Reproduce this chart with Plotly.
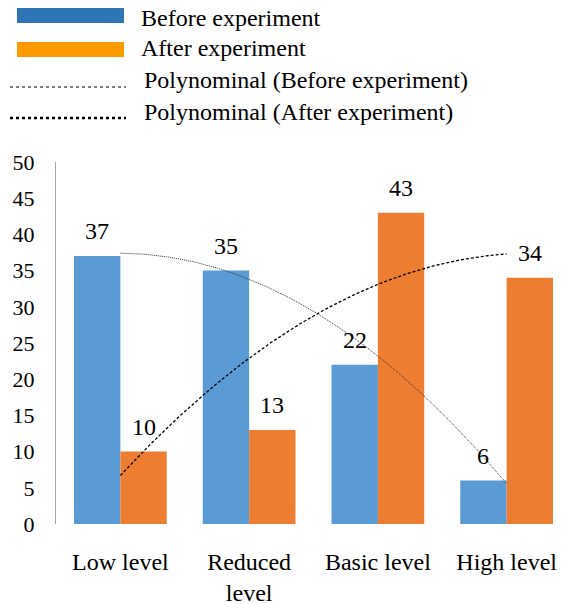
import numpy as np
import plotly.graph_objects as go

categories = ["Low level", "Reduced<br>level", "Basic level", "High level"]
before = [37, 35, 22, 6]
after = [10, 13, 43, 34]
y_ticks = [0, 5, 10, 15, 20, 25, 30, 35, 40, 45, 50]

FONT = "Liberation Serif, Times New Roman, serif"
FS = 24
FS_Y = 22
BLUE = "#5B9BD5"
ORANGE = "#ED7D31"
BARGAP = 0.28

# page body has an 8px margin; figure geometry in page pixels
OFF = 8
PL, PR, PT, PB = 56, 571, 162, 524  # plot area edges in page px
W, H = 573 - OFF, 604 - OFF
PW, PH = PR - PL, PB - PT


def px(xp):
    return (xp - PL) / PW


def py(yp):
    return (PB - yp) / PH


idx = np.arange(len(categories))
fig = go.Figure()
fig.add_trace(go.Bar(x=idx, y=before, marker=dict(color=BLUE, line=dict(width=0)), name="Before experiment", showlegend=False))
fig.add_trace(go.Bar(x=idx, y=after, marker=dict(color=ORANGE, line=dict(width=0)), name="After experiment", showlegend=False))

# polynomial (order 2) trendlines, as Excel computes them
xs = np.linspace(0, len(categories) - 1, 200)
pb = np.polyfit(idx, before, 2)
pa = np.polyfit(idx, after, 2)
fig.add_trace(go.Scatter(x=xs, y=np.polyval(pb, xs), mode="lines", line=dict(color="#333333", width=1, dash="1px,1px"), showlegend=False, hoverinfo="skip"))
fig.add_trace(go.Scatter(x=xs, y=np.polyval(pa, xs), mode="lines", line=dict(color="#000000", width=1.3, dash="3px,2px"), showlegend=False, hoverinfo="skip"))

# data labels
w = (1 - BARGAP) / 2
for i in idx:
    fig.add_annotation(x=i - w / 2, y=before[i], text=str(before[i]), showarrow=False, yshift=25,
                       font=dict(family=FONT, size=FS, color="#000"), xref="x", yref="y")
    fig.add_annotation(x=i + w / 2, y=after[i], text=str(after[i]), showarrow=False, yshift=25,
                       font=dict(family=FONT, size=FS, color="#000"), xref="x", yref="y")

# manual legend (wide swatches)
legend_labels = ["Before experiment", "After experiment",
                 "Polynominal (Before experiment)", "Polynominal (After experiment)"]
legend_kinds = ["rect", "rect", "thin", "thick"]
legend_colors = ["#2E75B6", "#FF9900", "#000", "#000"]
text_y = [18, 48, 80, 112]
swatch_y = [15.5, 49.5, 87, 118]
for label, kind, col, ty, sy in zip(legend_labels, legend_kinds, legend_colors, text_y, swatch_y):
    if kind == "rect":
        fig.add_shape(type="rect", xref="paper", yref="paper", x0=px(17), x1=px(124),
                      y0=py(sy + 7.5), y1=py(sy - 7.5), fillcolor=col, line=dict(width=0))
        tx = 139
    else:
        fig.add_shape(type="line", xref="paper", yref="paper", x0=px(10), x1=px(126),
                      y0=py(sy), y1=py(sy), line=dict(color=col, width=1 if kind == "thin" else 2.5, dash="dot"))
        tx = 142
    fig.add_annotation(xref="paper", yref="paper", x=px(tx), y=py(ty), xanchor="left", yanchor="middle",
                       text=label, showarrow=False, font=dict(family=FONT, size=FS, color="#000"))

fig.update_layout(
    width=W, height=H,
    margin=dict(l=PL - OFF, r=W - (PR - OFF), t=PT - OFF, b=H - (PB - OFF), autoexpand=False),
    paper_bgcolor="white", plot_bgcolor="white",
    barmode="group", bargap=BARGAP, bargroupgap=0,
    showlegend=False,
    font=dict(family=FONT, size=FS, color="#000"),
)
fig.update_xaxes(range=[-0.5, 3.5], tickvals=list(idx), ticktext=categories, showgrid=False, zeroline=False,
                 showline=False, ticks="outside", ticklen=16, tickcolor="rgba(0,0,0,0)", automargin=False,
                 tickfont=dict(family=FONT, size=FS, color="#000"))
fig.update_yaxes(range=[0, 50], tickvals=y_ticks, showgrid=False, zeroline=False, showline=True,
                 linecolor="#a6a6a6", linewidth=1, ticks="outside", ticklen=16, tickcolor="rgba(0,0,0,0)",
                 automargin=False, tickfont=dict(family=FONT, size=FS_Y, color="#000"))

fig.write_html("out.html")
